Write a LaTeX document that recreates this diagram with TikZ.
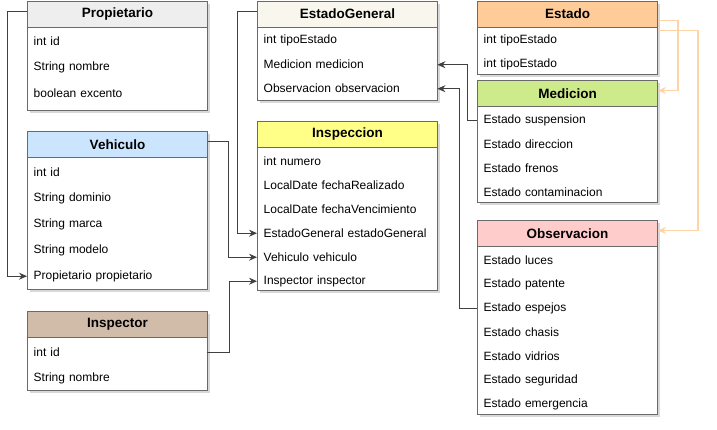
\documentclass[tikz,border=0pt]{standalone}
\usepackage{fontspec}
\setmainfont{Liberation Sans}
\usetikzlibrary{calc,arrows.meta,shadows}

\definecolor{boxline}{HTML}{6A6A6A}
\definecolor{connline}{HTML}{404040}
\definecolor{orangeline}{HTML}{FFD3A8}
\definecolor{hPro}{HTML}{EEEEEE}
\definecolor{hVeh}{HTML}{CCE5FF}
\definecolor{hEG}{HTML}{F9F7ED}
\definecolor{hIns}{HTML}{FFFF88}
\definecolor{hEst}{HTML}{FFCC99}
\definecolor{hMed}{HTML}{CDEB8B}
\definecolor{hObs}{HTML}{FFCCCC}
\definecolor{hInsp}{HTML}{D0BCA8}

\tikzset{
  boxframe/.style={draw=boxline, fill=white, line width=1pt, minimum width=180pt,
    anchor=north west, inner sep=0pt,
    drop shadow={opacity=0.3, shadow xshift=2.5pt, shadow yshift=-2.5pt}},
  hdr/.style={draw=boxline, line width=1pt, minimum width=180pt, minimum height=26pt,
    anchor=north west, inner sep=0pt, font=\fontsize{13.5}{16}\selectfont\bfseries},
  row/.style={minimum width=180pt, text width=167pt, align=left, inner xsep=6.5pt,
    inner ysep=0pt, anchor=north west, font=\fontsize{12}{14}\selectfont},
  conn/.style={draw=connline, line width=1pt, -{Stealth[length=8pt,width=7pt]}},
  inh/.style={draw=orangeline, line width=1.3pt, -{Stealth[length=8pt,width=7pt]}},
}

\newcommand\umlbox[7]{%
  \node[boxframe, minimum height=#6pt] (#1-frame) at (#2,#3) {};
  \node[hdr, fill=#4] (#1) at (#2,#3) {#1};
  \foreach \t [count=\i] in {#7} {
    \node[row, minimum height=#5pt] (#1-\i) at ($(#1.south west)+(0,{1+(\i-1)*#5})$) {\t};
  }
}

\begin{document}
\begin{tikzpicture}[x=1pt,y=-1pt]
\useasboundingbox (0,0) rectangle (717,429);
\fill[white] (0,0) rectangle (717,429);

\umlbox{Propietario}{27}{0.5}{hPro}{26}{109.5}{int id,String nombre,boolean excento}
\umlbox{Vehiculo}{27}{131}{hVeh}{26}{158}{int id,String dominio,String marca,String modelo,Propietario propietario}
\umlbox{Inspector}{27}{311}{hInsp}{26}{79}{int id,String nombre}
\umlbox{EstadoGeneral}{257}{0.5}{hEG}{24}{99.5}{int tipoEstado,Medicion medicion,Observacion observacion}
\umlbox{Inspeccion}{257}{121}{hIns}{24}{169}{int numero,LocalDate fechaRealizado,LocalDate fechaVencimiento,EstadoGeneral estadoGeneral,Vehiculo vehiculo,Inspector inspector}
\umlbox{Estado}{477}{0.5}{hEst}{24}{73.5}{int tipoEstado,int tipoEstado}
\umlbox{Medicion}{477}{80}{hMed}{24}{122}{Estado suspension,Estado direccion,Estado frenos,Estado contaminacion}
\umlbox{Observacion}{477}{220}{hObs}{24}{194}{Estado luces,Estado patente,Estado espejos,Estado chasis,Estado vidrios,Estado seguridad,Estado emergencia}

% connectors
\draw[conn] ([yshift=3pt]Propietario.west) -- ++(-20,0) |- (Vehiculo-5.west);
\draw[conn] ([yshift=3pt]EstadoGeneral.west) -- ++(-20,0) |- (Inspeccion-4.west);
\draw[conn] ([yshift=3pt]Vehiculo.east) -- ++(20,0) |- (Inspeccion-5.west);
\draw[conn] (Inspector-1.east) -- ++(22,0) |- (Inspeccion-6.west);
\draw[conn] (Medicion-1.west) -- ++(-10,0) |- (EstadoGeneral-2.east);
\draw[conn] (Observacion-3.west) -- ++(-18,0) |- (EstadoGeneral-3.east);

\draw[inh] ([yshift=-6.5pt]Estado.east) -- ++(20,0) |- ([yshift=3pt]Medicion.east);
\draw[inh] ([yshift=-16.5pt]Estado.east) -- ++(40,0) |- ([yshift=3pt]Observacion.east);
\end{tikzpicture}
\end{document}
